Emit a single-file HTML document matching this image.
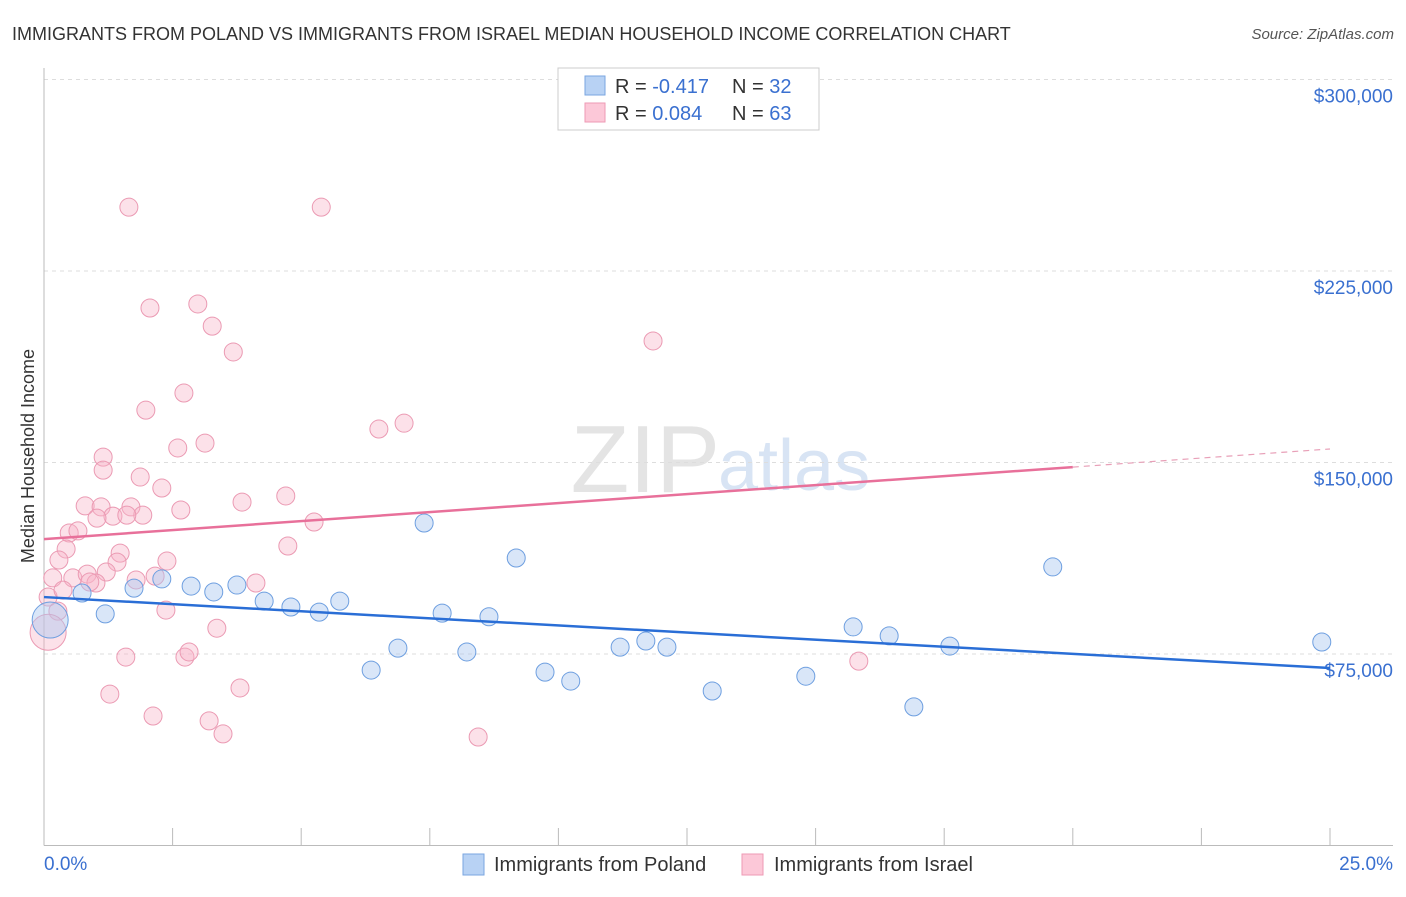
<!DOCTYPE html>
<html><head><meta charset="utf-8"><style>
body{margin:0;background:#fff;font-family:"Liberation Sans",sans-serif}
svg text{font-family:"Liberation Sans",sans-serif}
</style></head><body>
<svg id="c" width="1406" height="892">
<text x="12" y="40" font-size="18" fill="#333">IMMIGRANTS FROM POLAND VS IMMIGRANTS FROM ISRAEL MEDIAN HOUSEHOLD INCOME CORRELATION CHART</text>
<text x="1394" y="39" font-size="15" fill="#555" text-anchor="end" font-style="italic">Source: ZipAtlas.com</text>
<text x="34" y="456" font-size="18" fill="#333" text-anchor="middle" transform="rotate(-90 34 456)">Median Household Income</text>
<text x="720" y="492" font-size="96" fill="#e4e4e4" text-anchor="end" font-family="Liberation Serif">ZIP</text>
<text x="718" y="490" font-size="72" fill="#d8e4f4">atlas</text>
<g id="grid"></g><g id="pts"></g><g id="lines"></g>
<g>
<rect x="558" y="68" width="261" height="62" fill="#fff" stroke="#ccc"/>
<rect x="585" y="76" width="20" height="19" fill="#b8d2f4" stroke="#7aa6e0"/>
<rect x="585" y="103" width="20" height="19" fill="#fcc8d8" stroke="#ee9ab4"/>
<text x="615" y="93" font-size="20" fill="#333">R = <tspan fill="#3a70d0">-0.417</tspan></text>
<text x="732" y="93" font-size="20" fill="#333">N = <tspan fill="#3a70d0">32</tspan></text>
<text x="615" y="120" font-size="20" fill="#333">R = <tspan fill="#3a70d0"> 0.084</tspan></text>
<text x="732" y="120" font-size="20" fill="#333">N = <tspan fill="#3a70d0">63</tspan></text>
</g>
<g>
<rect x="463" y="854" width="21" height="21" fill="#b8d2f4" stroke="#7aa6e0"/>
<text x="494" y="871" font-size="20" fill="#333">Immigrants from Poland</text>
<rect x="742" y="854" width="21" height="21" fill="#fcc8d8" stroke="#ee9ab4"/>
<text x="774" y="871" font-size="20" fill="#333">Immigrants from Israel</text>
</g>
</svg>
<script>
const yTicks=[75000,150000,225000,300000];
const yTickLabels=["$75,000","$150,000","$225,000","$300,000"];
const xTickLabels=["0.0%","25.0%"];
const polandX=[0.12,0.74,1.19,1.75,2.29,2.86,3.30,3.75,4.28,4.80,5.35,5.75,6.36,6.88,7.39,7.74,8.22,8.65,9.18,9.74,10.24,11.20,11.70,12.11,12.99,14.81,15.73,16.43,16.91,17.61,19.61,24.84];
const polandY=[88300,98900,90700,100800,104400,101600,99300,102000,95700,93400,91400,95700,68700,77300,126300,91000,75800,89600,112600,67900,64400,77700,80100,77700,60500,66300,85600,82100,54300,78100,109100,79700];
const israelX=[1.65,5.39,2.06,2.99,3.27,3.68,11.84,2.72,1.98,6.51,7.00,1.15,2.60,3.13,1.15,1.87,2.29,3.85,4.70,0.80,1.69,1.11,1.34,1.92,1.61,1.03,2.66,5.25,0.49,0.66,4.74,0.43,1.48,0.29,1.42,2.39,0.17,0.56,0.84,1.21,1.79,2.16,4.12,1.01,0.89,0.08,0.27,2.37,3.36,0.08,1.59,2.74,2.82,15.84,1.28,3.81,2.12,3.21,3.48,8.44,0.37];
const israelY=[250000,250000,210500,212100,203400,193300,197600,177200,170500,163100,165400,152100,155700,157600,147000,144300,140000,134500,136900,133000,132600,132600,129000,129400,129400,128200,131400,126700,122400,123200,117300,116100,114500,111800,111000,111400,104800,104800,106300,107100,104000,105500,102800,102800,103200,97300,91800,92200,85100,83500,73800,73800,75800,72200,59300,61700,50700,48800,43700,42500,100000];
const polandBig=[0];
const israelBig=[49];
const polandTrend=[97300,69500];
const israelTrend=[120000,148200,155300];
const X=v=>44+v/25*1286, Y=v=>845.5-v/75000*191.5;
const NS="http://www.w3.org/2000/svg";
function mk(p,t,a){const e=document.createElementNS(NS,t);for(const k in a)e.setAttribute(k,a[k]);p.appendChild(e);return e;}
const g=document.getElementById('grid');
yTicks.forEach((t,i)=>{
 const l=mk(g,'line',{x1:44,x2:1393,y1:Y(t),y2:Y(t),stroke:'#ddd','stroke-dasharray':'4,4'});
 
 
 const tx=mk(g,'text',{x:1393,y:Y(t)+23,'font-size':19,fill:'#3a70d0','text-anchor':'end'});tx.textContent=yTickLabels[i];
 
 
});
const ax=mk(g,'line',{x1:44,x2:1393,y1:845.5,y2:845.5,stroke:'#bbb'});


const ay=mk(g,'line',{x1:44,x2:44,y1:68,y2:845.5,stroke:'#bbb'});


for(let i=0;i<=10;i++){const t=mk(g,'line',{x1:X(i*2.5),x2:X(i*2.5),y1:828,y2:845.5,stroke:'#bbb'});
 
 }
[[0,44,'start'],[25,1393,'end']].forEach((d,i)=>{const t=mk(g,'text',{x:d[1],y:870,'font-size':19,fill:'#3a70d0','text-anchor':d[2]});t.textContent=xTickLabels[i];
 
 });
const p=document.getElementById('pts');
function pts(xs,ys,big,fill,st,name){xs.forEach((x,i)=>{const c=mk(p,'circle',{cx:X(x),cy:Y(ys[i]),r:big.includes(i)?18:9,fill:fill,stroke:st,'stroke-width':1});
 
 });}
pts(israelX,israelY,israelBig,'rgba(248,180,200,0.4)','#eb9ab3','israel-point');
pts(polandX,polandY,polandBig,'rgba(170,200,240,0.45)','#6e9fe0','poland-point');
const L=document.getElementById('lines');
const b=mk(L,'line',{x1:X(0),y1:Y(polandTrend[0]),x2:X(25),y2:Y(polandTrend[1]),stroke:'#2a6ed6','stroke-width':2.5});


const r=mk(L,'line',{x1:X(0),y1:Y(israelTrend[0]),x2:X(20),y2:Y(israelTrend[1]),stroke:'#e8709a','stroke-width':2.5});


const rd=mk(L,'line',{x1:X(20),y1:Y(israelTrend[1]),x2:X(25),y2:Y(israelTrend[2]),stroke:'#e8a0b8','stroke-width':1.2,'stroke-dasharray':'6,5'});


</script>
</body></html>
